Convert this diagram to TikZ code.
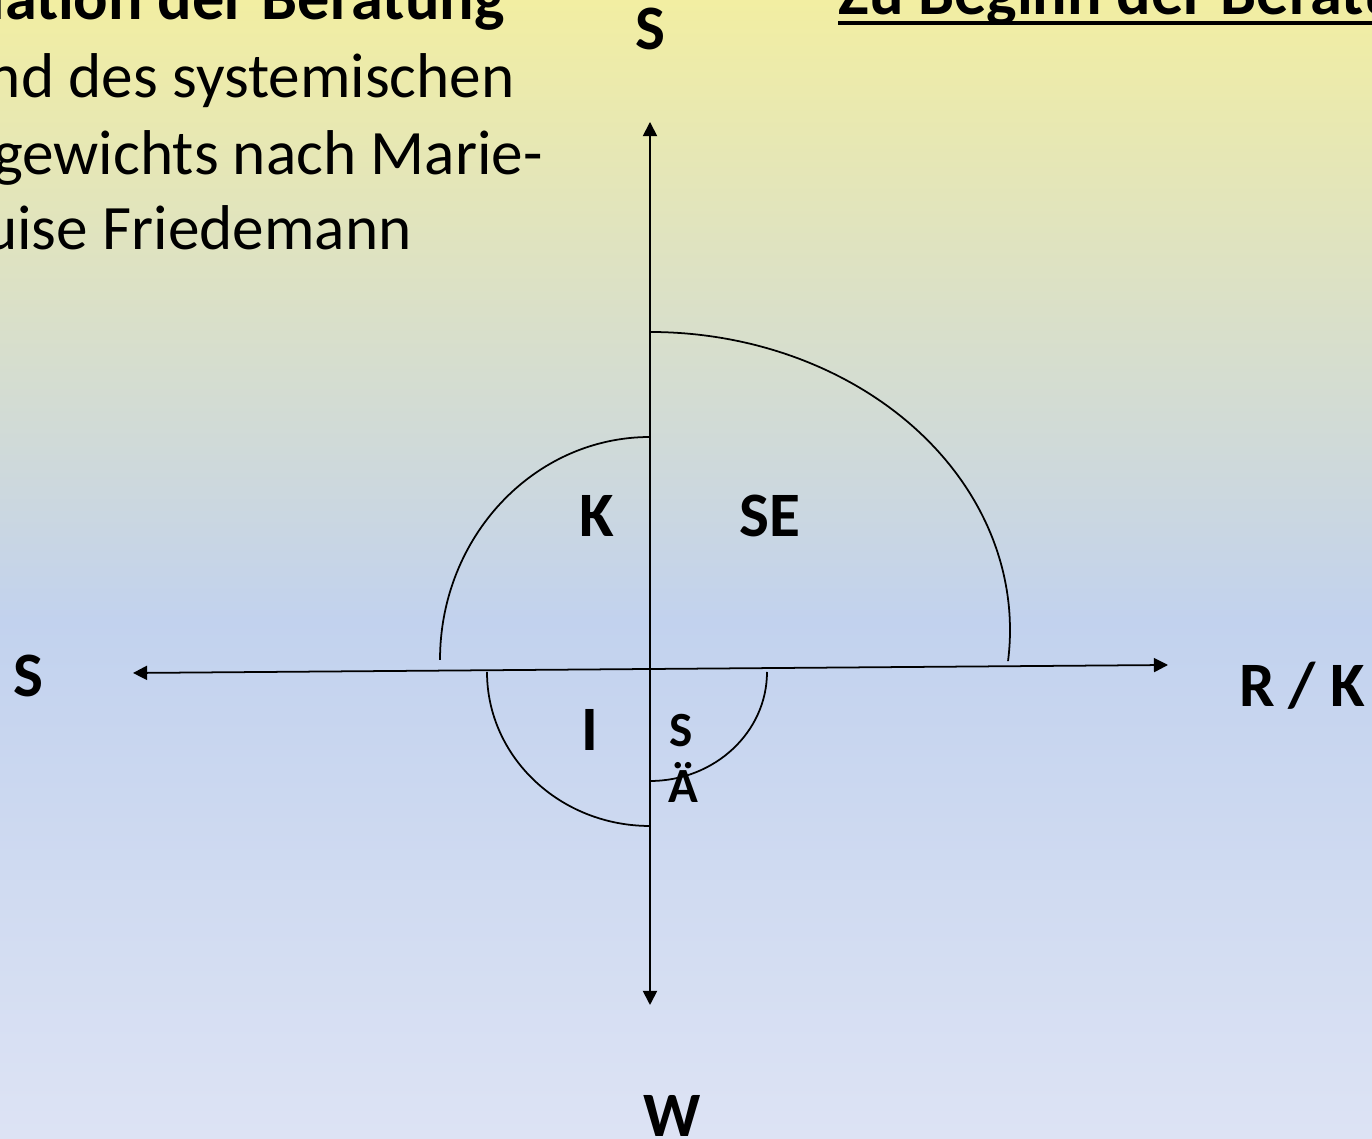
\documentclass[tikz,border=0pt]{standalone}
\usepackage{fontspec}
\setmainfont{Carlito}
\usetikzlibrary{arrows.meta}

\definecolor{bgtop}{RGB}{242,238,162}
\definecolor{bgmid}{RGB}{194,210,238}
\definecolor{bgbot}{RGB}{221,227,244}

\begin{document}
\begin{tikzpicture}[
  axis/.style={{Triangle[length=8pt,width=8pt]}-{Triangle[length=8pt,width=8pt]},line width=1pt},
  quad/.style={line width=1pt},
  lbl/.style={anchor=base,inner sep=0pt,font=\fontsize{36}{43}\selectfont\bfseries},
  lblsm/.style={anchor=base,inner sep=0pt,font=\fontsize{28}{34}\selectfont\bfseries},
  body/.style={anchor=base east,inner sep=0pt,font=\fontsize{36}{43}\selectfont},
  head/.style={inner sep=0pt,font=\fontsize{36.6}{44}\selectfont\bfseries}]

% slide background
\useasboundingbox (0,0) rectangle (27.44,22.78);
\clip (0,0) rectangle (27.44,22.78);
\shade[top color=bgtop,bottom color=bgmid] (0,10.36) rectangle (27.44,22.78);
\shade[top color=bgmid,bottom color=bgbot] (0,0) rectangle (27.44,10.40);

% headings, cut by the slide edge
\node[head,anchor=base east] (t1) at (10.10,22.38) {uation der Beratung};
\node[body] (t2) at (10.30,20.82) {nd des systemischen};
\node[body] (t3) at (10.86,19.28) {gewichts nach Marie-};
\node[body] (t4) at (8.24,17.78) {uise Friedemann};
\node[head,anchor=base west] (zb) at (16.76,22.48) {Zu Beginn der Beratung};
\draw[line width=2.3pt] ([yshift=-4.3pt]zb.base west) -- ([yshift=-4.3pt]zb.base east);

% axes
\coordinate (vt) at (13.0,20.34); \coordinate (vb) at (13.0,2.68);
\coordinate (hl) at (2.66,9.32); \coordinate (hr) at (23.36,9.48);
\draw[axis] (vb) -- (vt);
\draw[axis] (hl) -- (hr);

% quadrant arcs
\coordinate (se0) at (13.0,16.14); \coordinate (k0) at (13.0,14.04);
\coordinate (i0) at (9.74,9.34); \coordinate (sa0) at (15.34,9.34);
\draw[quad] (se0) arc[start angle=90,end angle=-6,x radius=7.2,y radius=5.96];
\draw[quad] (k0) arc[start angle=90,end angle=180,x radius=4.2,y radius=4.46];
\draw[quad] (i0) arc[start angle=180,end angle=270,x radius=3.26,y radius=3.08];
\draw[quad] (sa0) arc[start angle=0,end angle=-90,x radius=2.34,y radius=2.18];

% axis labels
\node[lbl] (ls) at (13.0,21.78) {S};
\node[lbl] (lw) at (13.44,0.04) {W};
\node[lbl] (lsl) at (0.56,8.84) {S};
\node[lbl] (lrk) at (26.04,8.64) {R / K};
% quadrant labels
\node[lbl] (qk) at (11.94,12.04) {K};
\node[lbl] (qse) at (15.4,12.04) {SE};
\node[lbl] (qi) at (11.8,7.76) {I};
\node[lblsm] (qs) at (13.62,7.84) {S};
\node[lblsm] (qa) at (13.66,6.72) {Ä};
\end{tikzpicture}
\end{document}
